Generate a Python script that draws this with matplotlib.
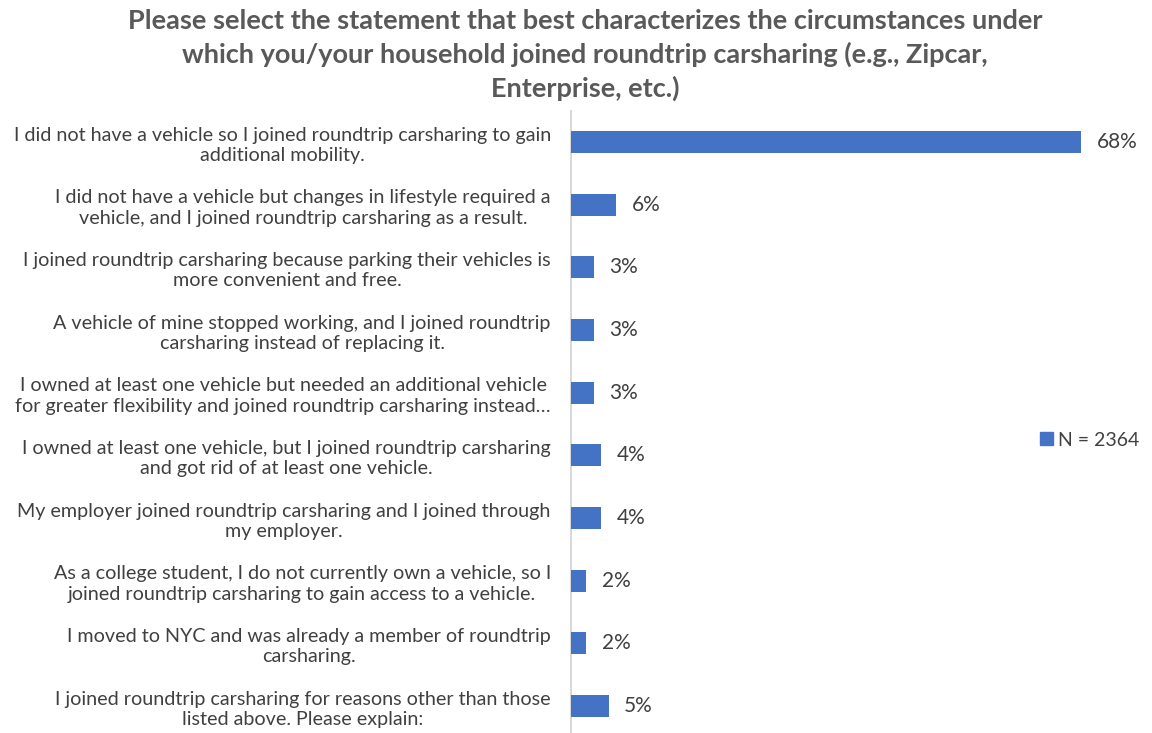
import matplotlib
matplotlib.use("Agg")
import matplotlib.pyplot as plt
from matplotlib.patches import Patch

plt.rcParams['font.family'] = ['Lato', 'DejaVu Sans']

title = ("Please select the statement that best characterizes the circumstances under\n"
         "which you/your household joined roundtrip carsharing (e.g., Zipcar,\n"
         "Enterprise, etc.)")

categories = [
    "I did not have a vehicle so I joined roundtrip carsharing to gain\nadditional mobility.",
    "I did not have a vehicle but changes in lifestyle required a\nvehicle, and I joined roundtrip carsharing as a result.",
    "I joined roundtrip carsharing because parking their vehicles is\nmore convenient and free.",
    "A vehicle of mine stopped working, and I joined roundtrip\ncarsharing instead of replacing it.",
    "I owned at least one vehicle but needed an additional vehicle\nfor greater flexibility and joined roundtrip carsharing instead\u2026",
    "I owned at least one vehicle, but I joined roundtrip carsharing\nand got rid of at least one vehicle.",
    "My employer joined roundtrip carsharing and I joined through\nmy employer.",
    "As a college student, I do not currently own a vehicle, so I\njoined roundtrip carsharing to gain access to a vehicle.",
    "I moved to NYC and was already a member of roundtrip\ncarsharing.",
    "I joined roundtrip carsharing for reasons other than those\nlisted above. Please explain:",
]
values = [68, 6, 3, 3, 3, 4, 4, 2, 2, 5]
series_name = "N = 2364"

bar_color = "#4472C4"
text_color = "#404040"
title_color = "#595959"

fig = plt.figure(figsize=(11.52, 7.33), dpi=100)
ax = fig.add_axes([571 / 1152, -0.006, 559 / 1152, 0.855])

y = list(range(len(categories)))
ax.barh(y, values, height=0.35, color=bar_color, zorder=3)
ax.set_ylim(len(categories) - 0.5, -0.5)
ax.set_xlim(0, 74.5)

for yi, v in zip(y, values):
    ax.text(v + 2.1, yi, f"{v}%", va="center", ha="left",
            fontsize=15, color=text_color)

ax.set_yticks(y)
ax.set_yticklabels(categories, fontsize=14.2, color=text_color,
                   multialignment="center", linespacing=1.25)
ax.tick_params(axis="y", length=0, pad=14.5)
ax.set_xticks([])
for s in ("top", "right", "bottom"):
    ax.spines[s].set_visible(False)
ax.spines["left"].set_color("#D9D9D9")
ax.spines["left"].set_linewidth(1.5)

fig.text(585 / 1152, 1 - 9 / 733, title, ha="center", va="top",
         fontsize=19.5, fontweight="bold", color=title_color,
         linespacing=1.4)

fig.legend(handles=[Patch(color=bar_color, label=series_name)],
           loc="center left", bbox_to_anchor=(1040 / 1152, 1 - 440 / 733),
           frameon=False, fontsize=14, handlelength=0.65, handleheight=0.65,
           handletextpad=0.3, borderaxespad=0, borderpad=0,
           labelcolor=text_color)

fig.savefig("out.png", dpi=100)
